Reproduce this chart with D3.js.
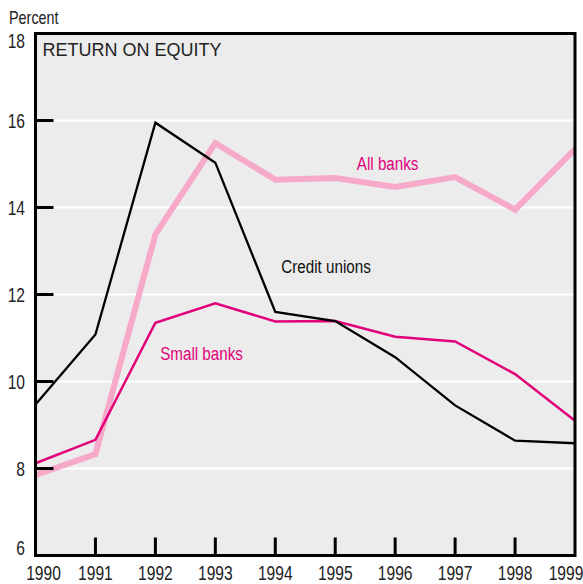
<html>
<head>
<script src="https://d3js.org/d3.v7.min.js"></script>
<style>
  body { margin: 0; background: #fff; }
  svg { font-family: "Liberation Sans", Arial, sans-serif; }
</style>
</head>
<body>
<svg id="chart"></svg>
<script>
const years = [1990, 1991, 1992, 1993, 1994, 1995, 1996, 1997, 1998, 1999];
const creditUnions = [9.47, 11.08, 15.95, 15.03, 11.6, 11.39, 10.56, 9.45, 8.64, 8.58];
const smallBanks = [8.12, 8.66, 11.35, 11.8, 11.38, 11.39, 11.03, 10.92, 10.17, 9.1];
const allBanks = [7.85, 8.33, 13.38, 15.48, 14.64, 14.68, 14.47, 14.7, 13.95, 15.34];
const yTicks = [6, 8, 10, 12, 14, 16, 18];

const width = 583, height = 584;
const margin = { top: 33.5, right: 8, bottom: 28.5, left: 35.5 };
const narrow = 0.8; // horizontal squeeze to mimic a condensed face

const svg = d3.select("#chart")
    .attr("width", width)
    .attr("height", height);

const x = d3.scaleLinear()
    .domain([1990, 1999])
    .range([margin.left, width - margin.right]);

const y = d3.scaleLinear()
    .domain([6, 18])
    .range([height - margin.bottom, margin.top]);

// condensed text helper
function label(px, py, str, size, color, anchor) {
    return svg.append("text")
        .attr("transform", `translate(${px},${py}) scale(${narrow},1)`)
        .attr("text-anchor", anchor || "start")
        .style("font-size", size + "px")
        .attr("fill", color)
        .text(str);
}

// plot background
svg.append("rect")
    .attr("x", x(1990))
    .attr("y", y(18))
    .attr("width", x(1999) - x(1990))
    .attr("height", y(6) - y(18))
    .attr("fill", "#ececec");

// white gridlines
svg.selectAll(".grid")
    .data(yTicks.filter(d => d > 6 && d < 18))
    .join("line")
    .attr("x1", x(1990))
    .attr("x2", x(1999))
    .attr("y1", d => y(d))
    .attr("y2", d => y(d))
    .attr("stroke", "#fff")
    .attr("stroke-width", 2);

// series
const line = d3.line()
    .x((d, i) => x(years[i]))
    .y(d => y(d));

svg.append("path")
    .datum(allBanks)
    .attr("d", line)
    .attr("fill", "none")
    .attr("stroke", "#f6a9c8")
    .attr("stroke-width", 6);

svg.append("path")
    .datum(smallBanks)
    .attr("d", line)
    .attr("fill", "none")
    .attr("stroke", "#e2007a")
    .attr("stroke-width", 2.5);

svg.append("path")
    .datum(creditUnions)
    .attr("d", line)
    .attr("fill", "none")
    .attr("stroke", "#000")
    .attr("stroke-width", 2.3);

// frame
svg.append("rect")
    .attr("x", x(1990))
    .attr("y", y(18))
    .attr("width", x(1999) - x(1990))
    .attr("height", y(6) - y(18))
    .attr("fill", "none")
    .attr("stroke", "#000")
    .attr("stroke-width", 3);

// inward ticks
svg.selectAll(".ytick")
    .data(yTicks.filter(d => d > 6 && d < 18))
    .join("line")
    .attr("x1", x(1990))
    .attr("x2", x(1990) + 18)
    .attr("y1", d => y(d))
    .attr("y2", d => y(d))
    .attr("stroke", "#000")
    .attr("stroke-width", 3);

svg.selectAll(".xtick")
    .data(years.slice(1, -1))
    .join("line")
    .attr("x1", d => x(d))
    .attr("x2", d => x(d))
    .attr("y1", y(6))
    .attr("y2", y(6) - 18)
    .attr("stroke", "#000")
    .attr("stroke-width", 3);

// y labels
yTicks.forEach(d => {
    label(25, y(d) + (d === 18 ? 14 : d === 6 ? -1 : 7), d, 19.5, "#222", "end");
});

// x labels
years.forEach((d, i) => {
    label(x(d) + (i === 0 ? 8 : i === years.length - 1 ? -9 : 0), 580, d, 19.5, "#222", "middle");
});

label(9, 24, "Percent", 18, "#222");

svg.append("text")
    .attr("x", x(1990) + 7)
    .attr("y", 56)
    .style("font-size", "18px")
    .attr("fill", "#222")
    .text("RETURN ON EQUITY");

// series labels
label(x(1995.36), y(14.86), "All banks", 19, "#e2007a");
label(x(1994.1), y(12.49), "Credit unions", 19, "#111");
label(x(1992.08), y(10.49), "Small banks", 19, "#e2007a");
</script>
</body>
</html>
